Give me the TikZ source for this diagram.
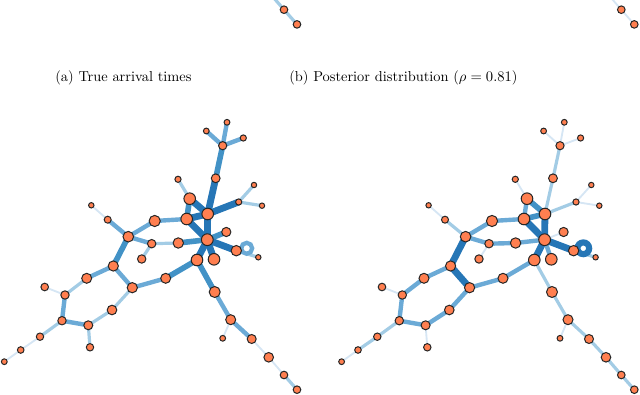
\documentclass[tikz,border=0pt]{standalone}
\usetikzlibrary{calc}
\pgfdeclarelayer{bg}
\pgfsetlayers{bg,main}
\definecolor{nodeor}{RGB}{255,127,80}
\definecolor{cA}{RGB}{214,230,244}
\definecolor{cB}{RGB}{163,204,229}
\definecolor{cC}{RGB}{107,170,214}
\definecolor{cD}{RGB}{66,146,198}
\definecolor{cE}{RGB}{38,118,182}
\tikzset{
  gn/.style={circle,draw=black!85,line width=0.75pt,fill=nodeor,inner sep=0pt},
  L1/.style={cA,line width=1.4pt},
  L2/.style={cB,line width=2.4pt},
  L3/.style={cC,line width=3.3pt},
  L4/.style={cD,line width=4.2pt},
  L5/.style={cE,line width=5.1pt},
  captext/.style={font=\fontsize{10.8}{13}\selectfont}
}
\def\nodelist{1/227/122.3/3.4, 2/206.3/131/3.4, 3/243.3/138/3.6, 4/222.7/145.7/4.6,
5/215.7/178.3/4.9, 6/178/179.3/3.6, 7/254/185/3.2, 8/189.7/198.7/6.3, 9/238.7/202/3.6,
10/262/205.7/3.2, 11/91.3/205.3/3.2, 12/207.7/214/6.3, 13/186.7/219/6.3, 14/154.7/221/6.1,
15/107.7/219.7/4.0, 16/226.3/232/5.1, 17/128.3/236.7/5.8, 18/207.3/239.7/6.4, 19/178.3/243/5.7,
20/151.7/243.7/4.7, 21/236.3/250.7/5.7, 22/258.3/257.3/3.2, 23/141.7/259/4.7, 24/197/260/6.3,
25/214/259.3/6.3, 26/113.3/266/5.6, 27/86.7/278.3/5.5, 28/165.7/278.3/5.5, 29/44.7/287/4.3,
30/132.3/287.7/5.6, 31/65/295/4.7, 32/214.7/292/6, 33/112/310/5.3, 34/62/320.7/4.7,
35/230.7/319.7/5.5, 36/88.3/325.3/5, 37/40/336.7/4.2, 38/222.7/338.3/3.4, 39/251.7/339/5,
40/90/347.3/4.2, 41/20.7/350/3.8, 42/268.7/357.3/5.3, 43/4.3/361.7/3.4, 44/284/375/4.3,
45/297/389.7/4.3}
\begin{document}
\begin{tikzpicture}[x=0.75pt,y=-0.75pt]
\useasboundingbox (0,0) rectangle (640,395);
% nodes of both panels
\foreach \n/\x/\y/\r in \nodelist {
  \node[gn,minimum size={\r*1.5pt-0.75pt}] (a\n) at (\x,\y) {};
  \node[gn,minimum size={\r*1.5pt-0.75pt}] (b\n) at (\x+337.3,\y) {};
}
% partial nodes of the row above
\foreach \n/\x/\y/\r in {41/20.7/350/3.8, 42/268.7/357.3/5.3, 43/4.3/361.7/3.4, 44/284/375/4.3, 45/297/389.7/4.3} {
  \node[gn,minimum size={\r*1.5pt-0.75pt}] (pa\n) at (\x,\y-365.3) {};
  \node[gn,minimum size={\r*1.5pt-0.75pt}] (pb\n) at (\x+337.3,\y-365.3) {};
}
\begin{pgfonlayer}{bg}
% panel (a)
\foreach \u/\v/\s in {4/1/L3, 4/2/L3, 4/3/L3, 4/5/L4, 5/12/L5, 6/8/L2, 7/9/L2, 9/10/L2,
  9/12/L5, 8/12/L5, 8/13/L4, 11/15/L1, 15/17/L3, 17/14/L3, 14/13/L3, 13/12/L5, 13/18/L5,
  12/18/L5, 16/18/L4, 17/20/L3, 20/19/L2, 19/18/L4, 18/21/L5, 21/22/L2, 18/24/L5, 18/25/L5,
  23/20/L2, 17/26/L4, 26/27/L3, 26/30/L3, 27/31/L2, 29/31/L1, 31/34/L3, 34/36/L3, 34/37/L2,
  36/40/L2, 36/33/L2, 33/30/L2, 30/28/L3, 28/24/L4, 37/41/L1, 41/43/L1, 24/32/L4, 32/35/L3,
  35/38/L1, 35/39/L3, 39/42/L1, 42/44/L1, 44/45/L2}
  \draw[\s] (a\u.center) -- (a\v.center);
\draw[cC,line width=3.2pt] (a21.center) ++(10.4,-2.4) circle[radius=4.1pt];
% panel (b)
\foreach \u/\v/\s in {4/1/L1, 4/2/L1, 4/3/L1, 4/5/L2, 5/12/L2, 6/8/L1, 7/9/L1, 9/10/L1,
  9/12/L2, 8/12/L4, 8/13/L3, 11/15/L1, 15/17/L2, 17/14/L3, 14/13/L3, 13/12/L4, 13/18/L5,
  12/18/L5, 16/18/L1, 17/20/L3, 20/19/L3, 19/18/L3, 18/21/L5, 21/22/L2, 18/24/L5, 18/25/L3,
  23/20/L1, 17/26/L5, 26/27/L3, 26/30/L5, 27/31/L3, 29/31/L1, 31/34/L3, 34/36/L3, 34/37/L2,
  36/40/L1, 36/33/L3, 33/30/L3, 30/28/L3, 28/24/L3, 37/41/L2, 41/43/L1, 24/32/L2, 32/35/L2,
  35/38/L1, 35/39/L2, 39/42/L2, 42/44/L2, 44/45/L2}
  \draw[\s] (b\u.center) -- (b\v.center);
\draw[cE,line width=4.6pt] (b21.center) ++(9.7,-2.4) circle[radius=4.4pt];
% row above
\draw[L1] (pa41.center) -- (pa43.center);
\draw[L2] (pa42.center) -- (pa44.center);
\draw[L2] (pa44.center) -- (pa45.center);
\draw[L1] (pb41.center) -- (pb43.center);
\draw[L1] (pb42.center) -- (pb44.center);
\draw[L1] (pb44.center) -- (pb45.center);
\end{pgfonlayer}
% captions
\node[captext] (capa) at (123.4,77.5) {(a) True arrival times};
\node[captext] (capb) at (403.4,77.5) {(b) Posterior distribution ($\rho=0.81$)};
\end{tikzpicture}
\end{document}
